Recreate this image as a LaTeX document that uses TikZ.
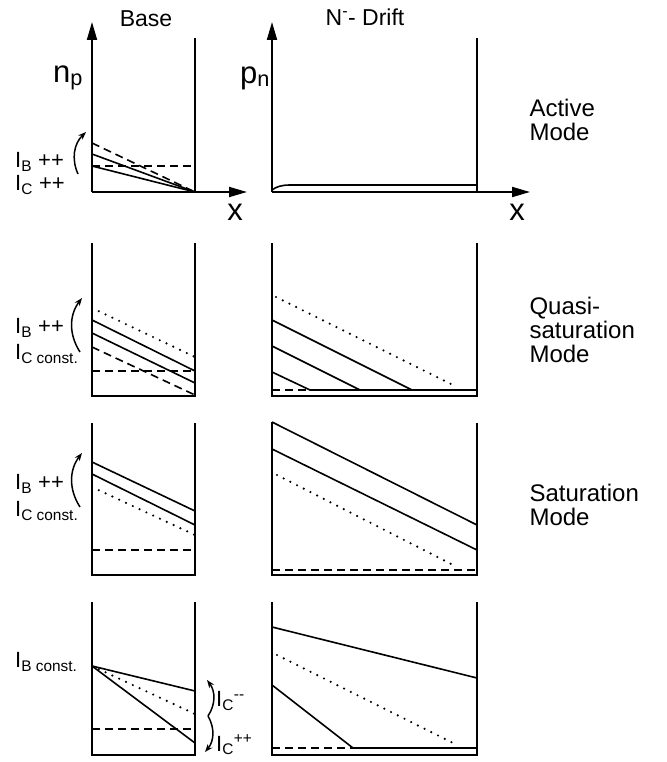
\documentclass[tikz,border=0pt]{standalone}
\usepackage{fontspec}
\setmainfont{Liberation Sans}
\usepackage{tikz}
\usetikzlibrary{arrows.meta}

\begin{document}
\begin{tikzpicture}[x=1pt, y=-1pt,
  axis/.style={line width=1.9pt, -{Triangle[length=18pt,width=10pt]}},
  wall/.style={line width=1.9pt},
  prof/.style={line width=1.6pt},
  dashprof/.style={line width=1.6pt, dash pattern=on 8pt off 5pt},
  dotprof/.style={line width=2.4pt, dash pattern=on 0pt off 7.5pt, line cap=round},
  turn/.style={line width=1.5pt, -{Stealth[length=8pt,width=6pt]}},
  head/.style={font=\fontsize{23}{26}\selectfont},
  axlbl/.style={font=\fontsize{31}{34}\selectfont},
  cur/.style={font=\fontsize{22}{25}\selectfont, anchor=west, inner sep=0pt},
  mode/.style={font=\fontsize{24}{24}\selectfont, align=left, anchor=west}
]
\useasboundingbox (0,0) rectangle (666,762);

% Column heads
\node[head] (base) at (146,19) {Base};
\node[head] (drift) at (365,17) {N\textsuperscript{-}- Drift};

% Active mode
\draw[axis] (92,192) -- (92,22);
\draw[axis] (92,192) -- (247,192);
\draw[wall] (195,38) -- (195,192);
\draw[axis] (272,192) -- (272,22);
\draw[axis] (272,192) -- (530,192);
\draw[wall] (477,38) -- (477,192);
\node[axlbl] (np) at (68,78) {n\textsubscript{p}};
\node[axlbl] (pn) at (255,78) {p\textsubscript{n}};
\node[axlbl] (xb) at (235,212) {x};
\node[axlbl] (xd) at (517,212) {x};

\draw[dashprof] (92,143) -- (195,192);
\draw[prof] (92,154) -- (195,192);
\draw[prof] (92,166) -- (195,192);
\draw[dashprof] (92,166) -- (195,166);
\draw[turn] (78,174) to[bend left=35] (86,132);
\node[cur] (ib1) at (15,162) {I\textsubscript{B} ++};
\node[cur] (ic1) at (15,185) {I\textsubscript{C} ++};

\draw[prof] (272,190) .. controls (276,187) and (281,185) .. (290,185) -- (477,185);
\node[mode] (active) at (526,120) {Active\\Mode};

% Quasi-saturation mode
\draw[wall] (92,243) -- (92,396) -- (195,396) -- (195,243);
\draw[wall] (272,243) -- (272,396) -- (477,396) -- (477,243);

\draw[dotprof] (92,308) -- (195,357);
\draw[prof] (92,320) -- (195,371);
\draw[prof] (92,333) -- (195,383);
\draw[dashprof] (92,347) -- (195,395);
\draw[dashprof] (92,371) -- (195,371);
\draw[turn] (80,352) to[bend left=35] (82,298);
\node[cur] (ib2) at (15,328) {I\textsubscript{B} ++};
\node[cur] (ic2) at (15,354) {I\textsubscript{C const.}};

\draw[dotprof] (276,297) -- (457,387);
\draw[prof] (272,320) -- (412,390);
\draw[prof] (272,346) -- (360,390);
\draw[prof] (272,372) -- (310,390) -- (477,390);
\draw[dashprof] (272,390) -- (310,390);
\node[mode] (quasi) at (526,330) {Quasi-\\saturation\\Mode};

% Saturation mode
\draw[wall] (92,423) -- (92,575) -- (195,575) -- (195,423);
\draw[wall] (272,422) -- (272,575) -- (477,575) -- (477,423);

\draw[prof] (92,462) -- (195,511);
\draw[prof] (92,474) -- (195,525);
\draw[dotprof] (92,487) -- (195,535);
\draw[dashprof] (92,550) -- (195,550);
\draw[turn] (80,507) to[bend left=35] (82,453);
\node[cur] (ib3) at (15,484) {I\textsubscript{B} ++};
\node[cur] (ic3) at (15,511) {I\textsubscript{C const.}};

\draw[prof] (272,422) -- (477,525);
\draw[prof] (272,449) -- (477,550);
\draw[dotprof] (277,475) -- (457,567);
\draw[dashprof] (272,570) -- (477,570);
\node[mode] (sat) at (526,505) {Saturation\\Mode};

% Collector current varied
\draw[wall] (92,602) -- (92,755) -- (195,755) -- (195,602);
\draw[wall] (272,602) -- (272,755) -- (477,755) -- (477,602);

\draw[prof] (92,666) -- (195,691);
\draw[prof] (92,666) -- (195,743);
\draw[dotprof] (92,666) -- (195,714);
\draw[dashprof] (92,729) -- (195,729);
\node[cur] (ib4) at (15,662) {I\textsubscript{B const.}};
\coordinate (brace) at (208,716);
\draw[turn] (brace) to[bend right=35] (207,680);
\draw[turn] (brace) to[bend left=35] (205,752);
\node[cur] (icm) at (216,701) {I\textsubscript{C}\textsuperscript{-{}-}};
\node[cur] (icp) at (216,745) {I\textsubscript{C}\textsuperscript{++}};

\draw[prof] (272,627) -- (477,678);
\draw[dotprof] (277,655) -- (457,745);
\draw[prof] (272,685) -- (353,748) -- (477,748);
\draw[dashprof] (272,748) -- (353,748);

\end{tikzpicture}
\end{document}
